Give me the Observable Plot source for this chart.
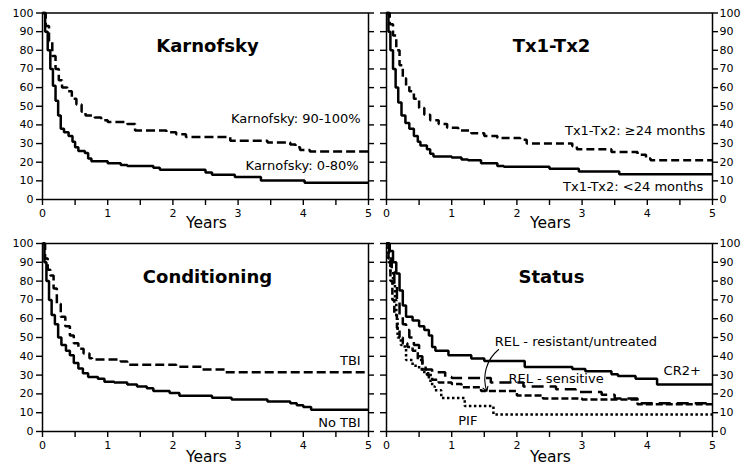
<!DOCTYPE html>
<html><head><meta charset="utf-8">
<script src="https://cdn.jsdelivr.net/npm/d3@7"></script>
<script src="https://cdn.jsdelivr.net/npm/@observablehq/plot@0.6"></script>
<style>
body{margin:0;background:#fff;}
#wrap{position:relative;width:751px;height:468px;background:#fff;overflow:hidden;font-family:"DejaVu Sans",Verdana,sans-serif;}
#wrap svg{position:absolute;}
</style></head><body><div id="wrap"></div>
<script>
// ---- tick values / labels ----
const xTickValues = [0, 0.5, 1, 1.5, 2, 2.5, 3, 3.5, 4, 4.5, 5];
const yTickValues = [0, 10, 20, 30, 40, 50, 60, 70, 80, 90, 100];
const axisTitle = "Years";
const panelTitles = ["Karnofsky", "Tx1-Tx2", "Conditioning", "Status"];

// ---- survival curves: [years, % surviving] ----
const karnofsky90_100 = [[0,100],[0.05,93],[0.1,85],[0.15,77],[0.2,70],[0.25,64],[0.3,60],[0.38,58],[0.45,54],[0.52,51],[0.6,47],[0.66,45],[0.8,44],[0.9,42.5],[1.0,41.5],[1.3,40.5],[1.42,37],[1.9,36],[2.05,35],[2.2,33.5],[2.88,31.5],[3.45,30.5],[3.8,29.5],[3.88,28],[3.95,26.5],[4.1,25.8],[5,25.8]];
const karnofsky0_80 = [[0,100],[0.04,90],[0.08,80],[0.12,70],[0.16,61],[0.2,53],[0.24,45],[0.28,38],[0.33,36],[0.4,34],[0.46,31],[0.5,28],[0.55,26],[0.65,25],[0.7,22],[0.75,20.5],[1.0,19.5],[1.2,18.5],[1.3,18],[1.7,17],[1.8,16],[2.5,14.5],[2.6,13.3],[2.95,12],[3.35,10.2],[4.02,9],[5,9]];
const tx24plus = [[0,100],[0.05,94],[0.1,88],[0.15,80],[0.2,72],[0.25,65],[0.3,61],[0.35,58],[0.42,54],[0.5,49],[0.58,45.5],[0.67,42.5],[0.8,40.5],[0.93,38.5],[1.1,37],[1.3,35.5],[1.5,34],[1.7,33],[2.05,32],[2.15,30],[2.85,28.5],[2.92,27],[3.45,25.5],[3.85,24],[3.98,22],[4.05,21],[5,21]];
const txUnder24 = [[0,100],[0.03,90],[0.06,80],[0.1,70],[0.14,60],[0.18,52],[0.23,45],[0.29,41],[0.35,38],[0.42,34],[0.48,31],[0.52,29],[0.62,27],[0.67,24.5],[0.72,23],[1.0,22.5],[1.15,21.5],[1.25,21],[1.45,19.5],[1.7,18],[1.8,17.5],[2.5,16.5],[2.95,15],[3.57,13.5],[5,13.5]];
const condTBI = [[0,100],[0.04,92],[0.08,86],[0.12,83],[0.17,76],[0.22,68],[0.28,61],[0.35,56],[0.42,51],[0.48,47],[0.55,44],[0.63,41.5],[0.72,39],[0.76,38.3],[1.2,37.3],[1.3,35.5],[2.05,34.5],[2.45,33],[2.8,31.5],[5,31.5]];
const condNoTBI = [[0,100],[0.03,90],[0.06,80],[0.1,70],[0.14,62],[0.19,57],[0.24,50],[0.29,46],[0.36,43],[0.42,40.5],[0.48,36.5],[0.55,33.5],[0.62,31],[0.7,29],[0.85,28],[0.95,26.5],[1.1,26],[1.3,25],[1.45,24],[1.6,23],[1.7,21.5],[1.95,20.5],[2.1,19],[2.6,18],[2.9,17],[3.45,16],[3.8,15],[3.9,14],[4.0,13],[4.12,11.6],[5,11.6]];
const statusCR2 = [[0,100],[0.05,96],[0.1,90],[0.15,84],[0.2,75],[0.25,67],[0.3,61],[0.4,59],[0.5,56],[0.58,54],[0.65,51],[0.7,45],[0.75,43],[0.95,40.5],[1.3,38.8],[1.5,37.5],[2.12,34.3],[2.85,33.2],[3.05,32],[3.45,30.5],[3.55,29.5],[3.82,28],[4.15,25],[5,25]];
const statusRelSensitive = [[0,100],[0.04,92],[0.08,85],[0.12,78],[0.16,70],[0.2,62],[0.25,57],[0.3,54],[0.35,50],[0.42,46],[0.5,40],[0.55,35],[0.6,33],[0.7,31.5],[0.9,29],[1.0,28.5],[1.6,26],[2.1,24],[2.6,22.5],[2.9,21],[3.3,19.5],[3.5,17.5],[3.85,15],[5,15]];
const statusRelResistant = [[0,100],[0.03,90],[0.06,80],[0.09,70],[0.12,62],[0.16,55],[0.2,50],[0.25,47],[0.32,45],[0.4,43],[0.48,38],[0.55,33],[0.62,30],[0.7,27.5],[0.8,26],[1.0,25.3],[1.15,23.6],[1.45,21.5],[2.0,19.2],[2.4,17.5],[3.0,17],[3.85,14.5],[5,14.5]];
const statusPIF = [[0,100],[0.03,92],[0.06,85],[0.1,78],[0.13,70],[0.15,60],[0.17,50],[0.22,46],[0.28,44.5],[0.3,38],[0.4,35],[0.5,33],[0.58,31],[0.65,27],[0.7,24],[0.74,22],[0.84,17.8],[1.2,13.5],[1.64,9],[5,9]];

// ---- curve labels: [text, years, %] ----
const karnofskyLabels = [["Karnofsky: 90-100%", 4.88, 41.2], ["Karnofsky: 0-80%", 4.85, 16]];
const txLabels = [["Tx1-Tx2: \u226524 months", 4.89, 34.4], ["Tx1-Tx2: <24 months", 4.86, 4.6]];
const conditioningLabels = [["TBI", 4.88, 35.6], ["No TBI", 4.88, 2.5]];
const statusLabels = [["REL - resistant/untreated", 1.66, 45.7], ["REL - sensitive", 1.87, 26], ["CR2+", 4.25, 30.3], ["PIF", 1.1, 3.7]];
// arrow from label to curve: [x1, y1, x2, y2]
const statusArrow = [[1.72, 43.6, 1.54, 21.3]];

const wrap = document.getElementById("wrap");

function panel(cfg) {
  const marks = [
    Plot.frame({stroke: "black", strokeWidth: 1.5}),
    Plot.axisX({ticks: xTickValues, tickFormat: d => Number.isInteger(d) ? String(d) : "", tickSize: 6, tickPadding: 4, strokeWidth: 1.4, label: null, fontSize: 11}),
    Plot.axisY({anchor: "left", ticks: yTickValues, tickSize: 6, tickPadding: 3, strokeWidth: 1.4, label: null, fontSize: 11,
      tickFormat: cfg.side === "left" ? (d => String(d)) : (() => "")}),
    Plot.axisY({anchor: "right", ticks: yTickValues, tickSize: 5, tickPadding: 2, strokeWidth: 1.4, label: null, fontSize: 11,
      tickFormat: cfg.side === "right" ? (d => String(d)) : (() => "")}),
    ...cfg.series.map(s => Plot.line(s.data, {x: d => d[0], y: d => d[1], curve: "step-after", stroke: "black", strokeWidth: s.w || 2.5, strokeDasharray: s.dash, strokeLinecap: "butt", strokeLinejoin: "miter"})),
    Plot.text([cfg.title], {x: () => 2.53, y: () => 79, text: d => d, fontSize: 18, fontWeight: "bold", lineAnchor: "bottom", textAnchor: "middle"}),
    Plot.text(cfg.labels, {x: d => d[1], y: d => d[2], text: d => d[0], fontSize: 13, lineAnchor: "bottom", textAnchor: cfg.labelAnchor}),
    Plot.text([axisTitle], {frameAnchor: "bottom", dx: 1, dy: cfg.yearsDy, text: d => d, fontSize: 15.5, lineAnchor: "bottom"})
  ];
  if (cfg.arrows) marks.push(Plot.arrow(cfg.arrows, {x1: d => d[0], y1: d => d[1], x2: d => d[2], y2: d => d[3], bend: -35, stroke: "black", strokeWidth: 1.1, headLength: 7}));
  const svg = Plot.plot({
    width: cfg.width, height: cfg.height,
    marginLeft: cfg.ml, marginRight: cfg.mr, marginTop: cfg.mt, marginBottom: cfg.mb,
    x: {domain: [0, 5]},
    y: {domain: [0, 100]},
    style: {fontFamily: "'DejaVu Sans', Verdana, sans-serif", fontSize: "11px", color: "black", background: "transparent", overflow: "visible"},
    marks
  });
  svg.style.left = cfg.left + "px";
  svg.style.top = cfg.top + "px";
  wrap.appendChild(svg);
}

panel({title: panelTitles[0], left: 0, top: 0, width: 375, height: 234, ml: 42, mr: 7, mt: 12.5, mb: 35, side: "left", yearsDy: 28, labelAnchor: "end",
  labels: karnofskyLabels,
  series: [{data: karnofsky90_100, dash: "9,4"}, {data: karnofsky0_80}]});
panel({title: panelTitles[1], left: 375, top: 0, width: 376, height: 234, ml: 11, mr: 39, mt: 12.5, mb: 35, side: "right", yearsDy: 28, labelAnchor: "end",
  labels: txLabels,
  series: [{data: tx24plus, dash: "8,4"}, {data: txUnder24}]});
panel({title: panelTitles[2], left: 0, top: 234, width: 375, height: 234, ml: 42, mr: 7, mt: 9, mb: 37, side: "left", yearsDy: 30, labelAnchor: "end",
  labels: conditioningLabels,
  series: [{data: condTBI, dash: "9,4"}, {data: condNoTBI}]});
panel({title: panelTitles[3], left: 375, top: 234, width: 376, height: 234, ml: 11, mr: 39, mt: 9, mb: 37, side: "right", yearsDy: 30, labelAnchor: "start",
  labels: statusLabels, arrows: statusArrow,
  series: [{data: statusPIF, dash: "2.5,2.5"}, {data: statusRelResistant, dash: "7,3"}, {data: statusRelSensitive, dash: "12,6"}, {data: statusCR2}]});
</script>
</body></html>
